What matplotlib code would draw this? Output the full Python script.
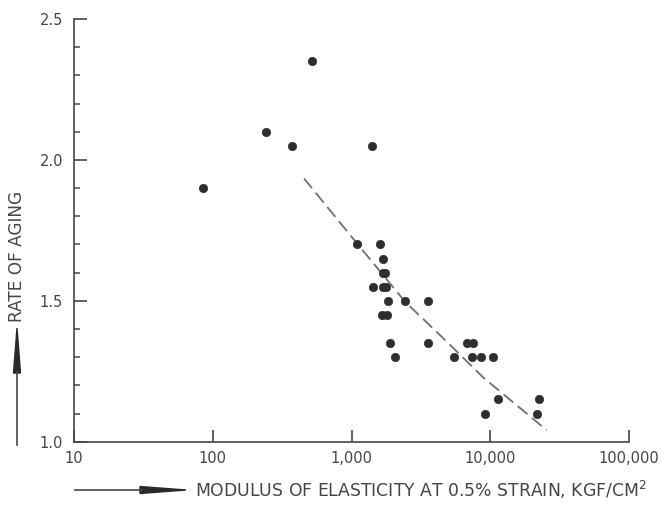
import numpy as np
import matplotlib
matplotlib.use("Agg")
import matplotlib.pyplot as plt
from matplotlib.lines import Line2D
from matplotlib.patches import Polygon
from matplotlib.ticker import FixedLocator, NullLocator

plt.rcParams['font.family'] = ['DejaVu Sans']

# measured samples: modulus of elasticity (kgf/cm2) vs rate of aging
modulus = [85, 240, 370, 520, 1400,
           1090, 1600, 1680, 1680, 1750,
           1440, 1700, 1780, 1840, 2430, 3580,
           1670, 1815, 1900, 3580, 6800, 7500,
           2060, 5480, 7430, 8530, 10400,
           9200, 11300, 21600, 22600]
rate = [1.90, 2.10, 2.05, 2.35, 2.05,
        1.70, 1.70, 1.65, 1.60, 1.60,
        1.55, 1.55, 1.55, 1.50, 1.50, 1.50,
        1.45, 1.45, 1.35, 1.35, 1.35, 1.35,
        1.30, 1.30, 1.30, 1.30, 1.30,
        1.10, 1.15, 1.10, 1.15]

# trend curve
trend_x = [455, 1090, 2430, 4350, 8900, 25500]
trend_y = [1.934, 1.705, 1.497, 1.378, 1.228, 1.041]

xticks = [10, 100, 1000, 10000, 100000]
xtick_labels = ['10', '100', '1,000', '10,000', '100,000']
yticks = [1.0, 1.5, 2.0, 2.5]
ytick_labels = ['1.0', '1.5', '2.0', '2.5']

W, H = 665, 507
ink = '#454545'


def fx(px):
    return px / W


def fy(py):
    return 1 - py / H


fig = plt.figure(figsize=(W / 100, H / 100), dpi=100)
ax = fig.add_axes([fx(74), fy(441.7), (629 - 74) / W, (441.7 - 19) / H])

ax.plot(trend_x, trend_y, color='#707070', lw=1.3, dashes=(7, 3.2))
ax.plot(modulus, rate, 'o', color='#2e2e2e', ms=6, mec='#2e2e2e', mew=0.5)

ax.set_xscale('log')
ax.set_xlim(10, 100000)
ax.set_ylim(1.0, 2.5)
ax.xaxis.set_major_locator(FixedLocator(xticks))
ax.xaxis.set_minor_locator(NullLocator())
ax.set_xticklabels(xtick_labels)
ax.yaxis.set_major_locator(FixedLocator(yticks))
ax.yaxis.set_minor_locator(FixedLocator(np.arange(1.0, 2.51, 0.1)))
ax.set_yticklabels(ytick_labels)

for side in ['top', 'right']:
    ax.spines[side].set_visible(False)
for side in ['left', 'bottom']:
    ax.spines[side].set_color(ink)
    ax.spines[side].set_linewidth(1.2)

ax.tick_params(axis='x', which='major', direction='in', length=9, width=1.2,
               color=ink, labelcolor=ink, labelsize=10.5, pad=7)
ax.tick_params(axis='y', which='major', direction='in', length=9.5, width=1.2,
               color=ink, labelcolor=ink, labelsize=10.5, pad=8)
ax.tick_params(axis='y', which='minor', direction='in', length=4.5, width=1.1,
               color=ink)

# axis captions with pointing arrows
fig.text(fx(17), fy(256), 'RATE OF AGING', rotation=90, ha='center', va='center',
         color=ink, fontsize=12.2)
fig.lines.append(Line2D([fx(17), fx(17)], [fy(445), fy(372)], color=ink, lw=1.2,
                        transform=fig.transFigure))
fig.patches.append(Polygon([[fx(17), fy(328)], [fx(13.5), fy(373)], [fx(20.5), fy(373)]],
                           closed=True, color='#2a2a2a', transform=fig.transFigure))

fig.text(fx(195), fy(490), 'MODULUS OF ELASTICITY AT 0.5% STRAIN, KGF/CM$^2$',
         ha='left', va='center', color=ink, fontsize=12.4)
fig.lines.append(Line2D([fx(75), fx(142)], [fy(490), fy(490)], color=ink, lw=1.2,
                        transform=fig.transFigure))
fig.patches.append(Polygon([[fx(186), fy(490)], [fx(140), fy(486.5)], [fx(140), fy(493.5)]],
                           closed=True, color='#2a2a2a', transform=fig.transFigure))

fig.savefig('out.png', dpi=100, facecolor='white')
